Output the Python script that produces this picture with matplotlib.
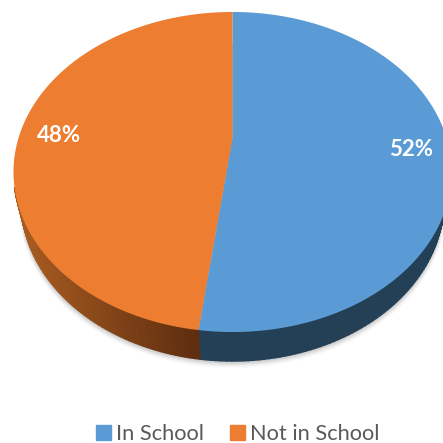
import matplotlib
matplotlib.use("Agg")
import matplotlib.pyplot as plt
import numpy as np
from matplotlib.patches import Patch

labels = ["In School", "Not in School"]
values = [52, 48]
colors = ["#5B9BD5", "#ED7D31"]
side_left = [(0.14, 0.25, 0.34), (0.66, 0.36, 0.13)]
side_right = [(0.14, 0.25, 0.34), (0.37, 0.18, 0.06)]
label_pos = [(411, 150), (59, 136)]

# perspective of the pie disc, in pixels
cx, cy = 232.5, 138
B, A, k = 214, 152.8, 0.2125
depth = 29
shrink = 0.965


def project(theta):
    # theta is clockwise from 12 o'clock
    u = np.sin(theta)
    v = -np.cos(theta)
    w = 1 - k * v
    return cx + B * u / w, cy + A * v / w


fig = plt.figure(figsize=(4.43, 4.43), dpi=100)
ax = fig.add_axes([0, 0, 1, 1])
ax.set_xlim(0, 443)
ax.set_ylim(443, 0)
ax.axis("off")

all_t = np.linspace(0, 2 * np.pi, 400)
ex, ey = project(all_t)

# soft shadow under the pie
for grow, alpha in zip([9, 7, 5, 3, 1], [0.02, 0.04, 0.06, 0.07, 0.09]):
    ax.fill(cx + (ex - cx) * (shrink + grow / 900), ey + depth + grow * 0.8,
            color="black", alpha=alpha, lw=0, zorder=1)

fractions = np.cumsum([0] + values) / sum(values)

# side wall, only the front half shows
for i in range(len(values)):
    t = np.linspace(fractions[i], fractions[i + 1], 160) * 2 * np.pi
    x, y = project(t)
    x2 = cx + (x - cx) * shrink
    for j in range(len(t) - 1):
        if y[j] < 190:
            continue
        # shade goes along x
        f = (x[j] - 20) / (198 - 20)
        f = min(max(f, 0), 1)
        c = np.array(side_left[i]) * (1 - f) + np.array(side_right[i]) * f
        ax.fill([x[j], x[j + 1], x2[j + 1], x2[j]],
                [y[j], y[j + 1], y[j + 1] + depth, y[j] + depth],
                facecolor=c, edgecolor=c, lw=1, zorder=2)

# top of the pie
for i in range(len(values)):
    t = np.linspace(fractions[i], fractions[i + 1], 200) * 2 * np.pi
    x, y = project(t)
    ax.fill(np.r_[cx, x], np.r_[cy, y], color=colors[i], lw=0, zorder=3)
    ax.text(label_pos[i][0], label_pos[i][1], str(values[i]) + "%", color="white",
            fontsize=16, fontweight="bold", family="Lato", ha="center", va="center", zorder=4)

handles = [Patch(color=c) for c in colors]
leg = fig.legend(handles, labels, loc="center", bbox_to_anchor=(237.5 / 443, 1 - 434 / 443), ncol=2,
                 frameon=False, fontsize=15.7, labelcolor="#595959",
                 handlelength=0.69, handleheight=0.69, handletextpad=0.23, columnspacing=1.2,
                 borderpad=0, borderaxespad=0)
for t in leg.get_texts():
    t.set_family("Lato")

fig.savefig("out.png", dpi=100)
